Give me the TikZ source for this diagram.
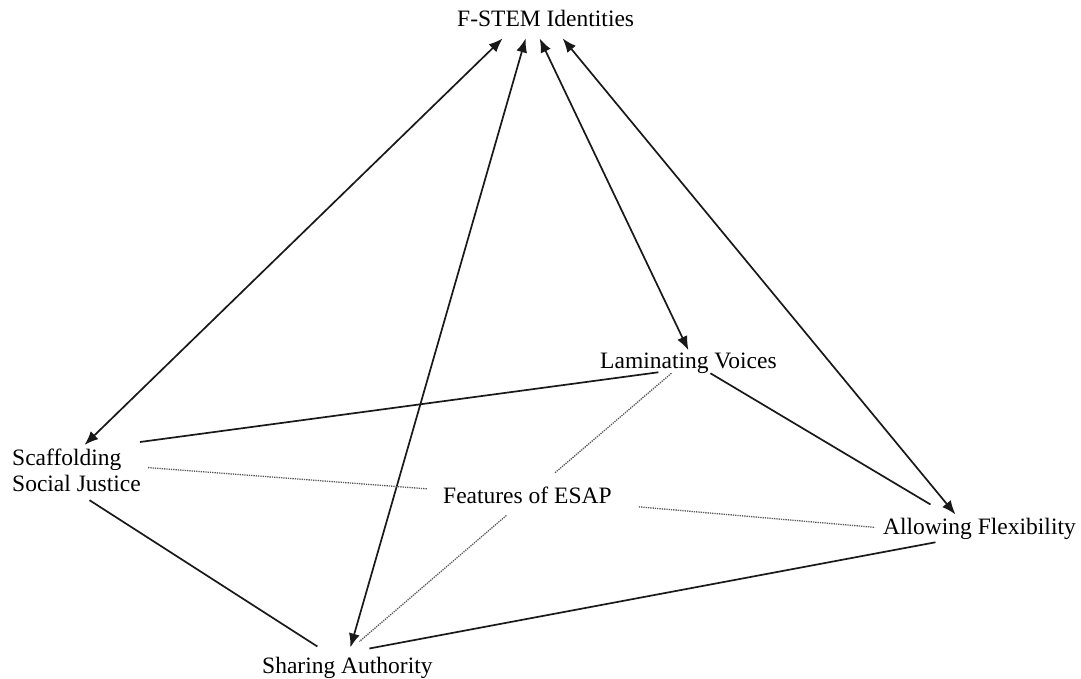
\documentclass[tikz,border=0pt]{standalone}
\usepackage{fontspec}
\setmainfont{Liberation Serif}
\usetikzlibrary{arrows.meta}
\begin{document}
\begin{tikzpicture}[x=1pt,y=-1pt,
	label/.style={inner sep=0pt, font=\fontsize{23.5}{26}\selectfont},
	link/.style={line width=1.7pt, black!90},
	both/.style={link, {Latex[length=14pt,width=11pt]}-{Latex[length=14pt,width=11pt]}},
	weak/.style={line width=1.3pt, densely dotted, black!65}]
	\useasboundingbox (0,0) rectangle (1081,679);
	\node[label, anchor=base west] (fstem) at (457,27) {F-STEM Identities};
	\node[label, anchor=base west] (lam) at (600,368) {Laminating Voices};
	\node[label, anchor=north west, align=left] (scaff) at (12,449) {Scaffolding\\Social Justice};
	\node[label, anchor=base west] (feat) at (443,503) {Features of ESAP};
	\node[label, anchor=base west] (allow) at (883,534) {Allowing Flexibility};
	\node[label, anchor=base west] (share) at (262,673) {Sharing Authority};

	\draw[both] ([xshift=-43pt,yshift=-11pt]fstem.south) -- ([xshift=8pt,yshift=4pt]scaff.north);
	\draw[both] ([xshift=-20pt,yshift=-11pt]fstem.south) -- ([xshift=3pt,yshift=9pt]share.north);
	\draw[both] ([xshift=-6pt,yshift=-11pt]fstem.south) -- ([yshift=2pt]lam.north);
	\draw[both] ([xshift=17pt,yshift=-11pt]fstem.south) -- ([xshift=-24pt,yshift=3pt]allow.north);

	\draw[link] ([xshift=-30pt,yshift=1pt]lam.south) -- ([xshift=-1pt,yshift=7pt]scaff.north east);
	\draw[link] ([xshift=22pt]lam.south) -- ([xshift=-49pt,yshift=13pt]allow.north);
	\draw[link] ([xshift=13pt,yshift=-8pt]scaff.south) -- ([xshift=-30pt,yshift=10pt]share.north);
	\draw[link] ([xshift=22pt,yshift=8pt]share.north) -- ([xshift=-44pt,yshift=-3pt]allow.south);

	\draw[weak] ([xshift=-17pt]lam.south) -- ([xshift=27pt,yshift=13pt]feat.north);
	\draw[weak] ([xshift=7pt,yshift=3pt]scaff.east) -- ([xshift=-16pt,yshift=6pt]feat.west);
	\draw[weak] ([xshift=27pt,yshift=-12pt]feat.east) -- ([xshift=-8pt,yshift=1pt]allow.west);
	\draw[weak] ([xshift=-21pt,yshift=-12pt]feat.south) -- ([xshift=12pt,yshift=15pt]share.north);
\end{tikzpicture}
\end{document}
